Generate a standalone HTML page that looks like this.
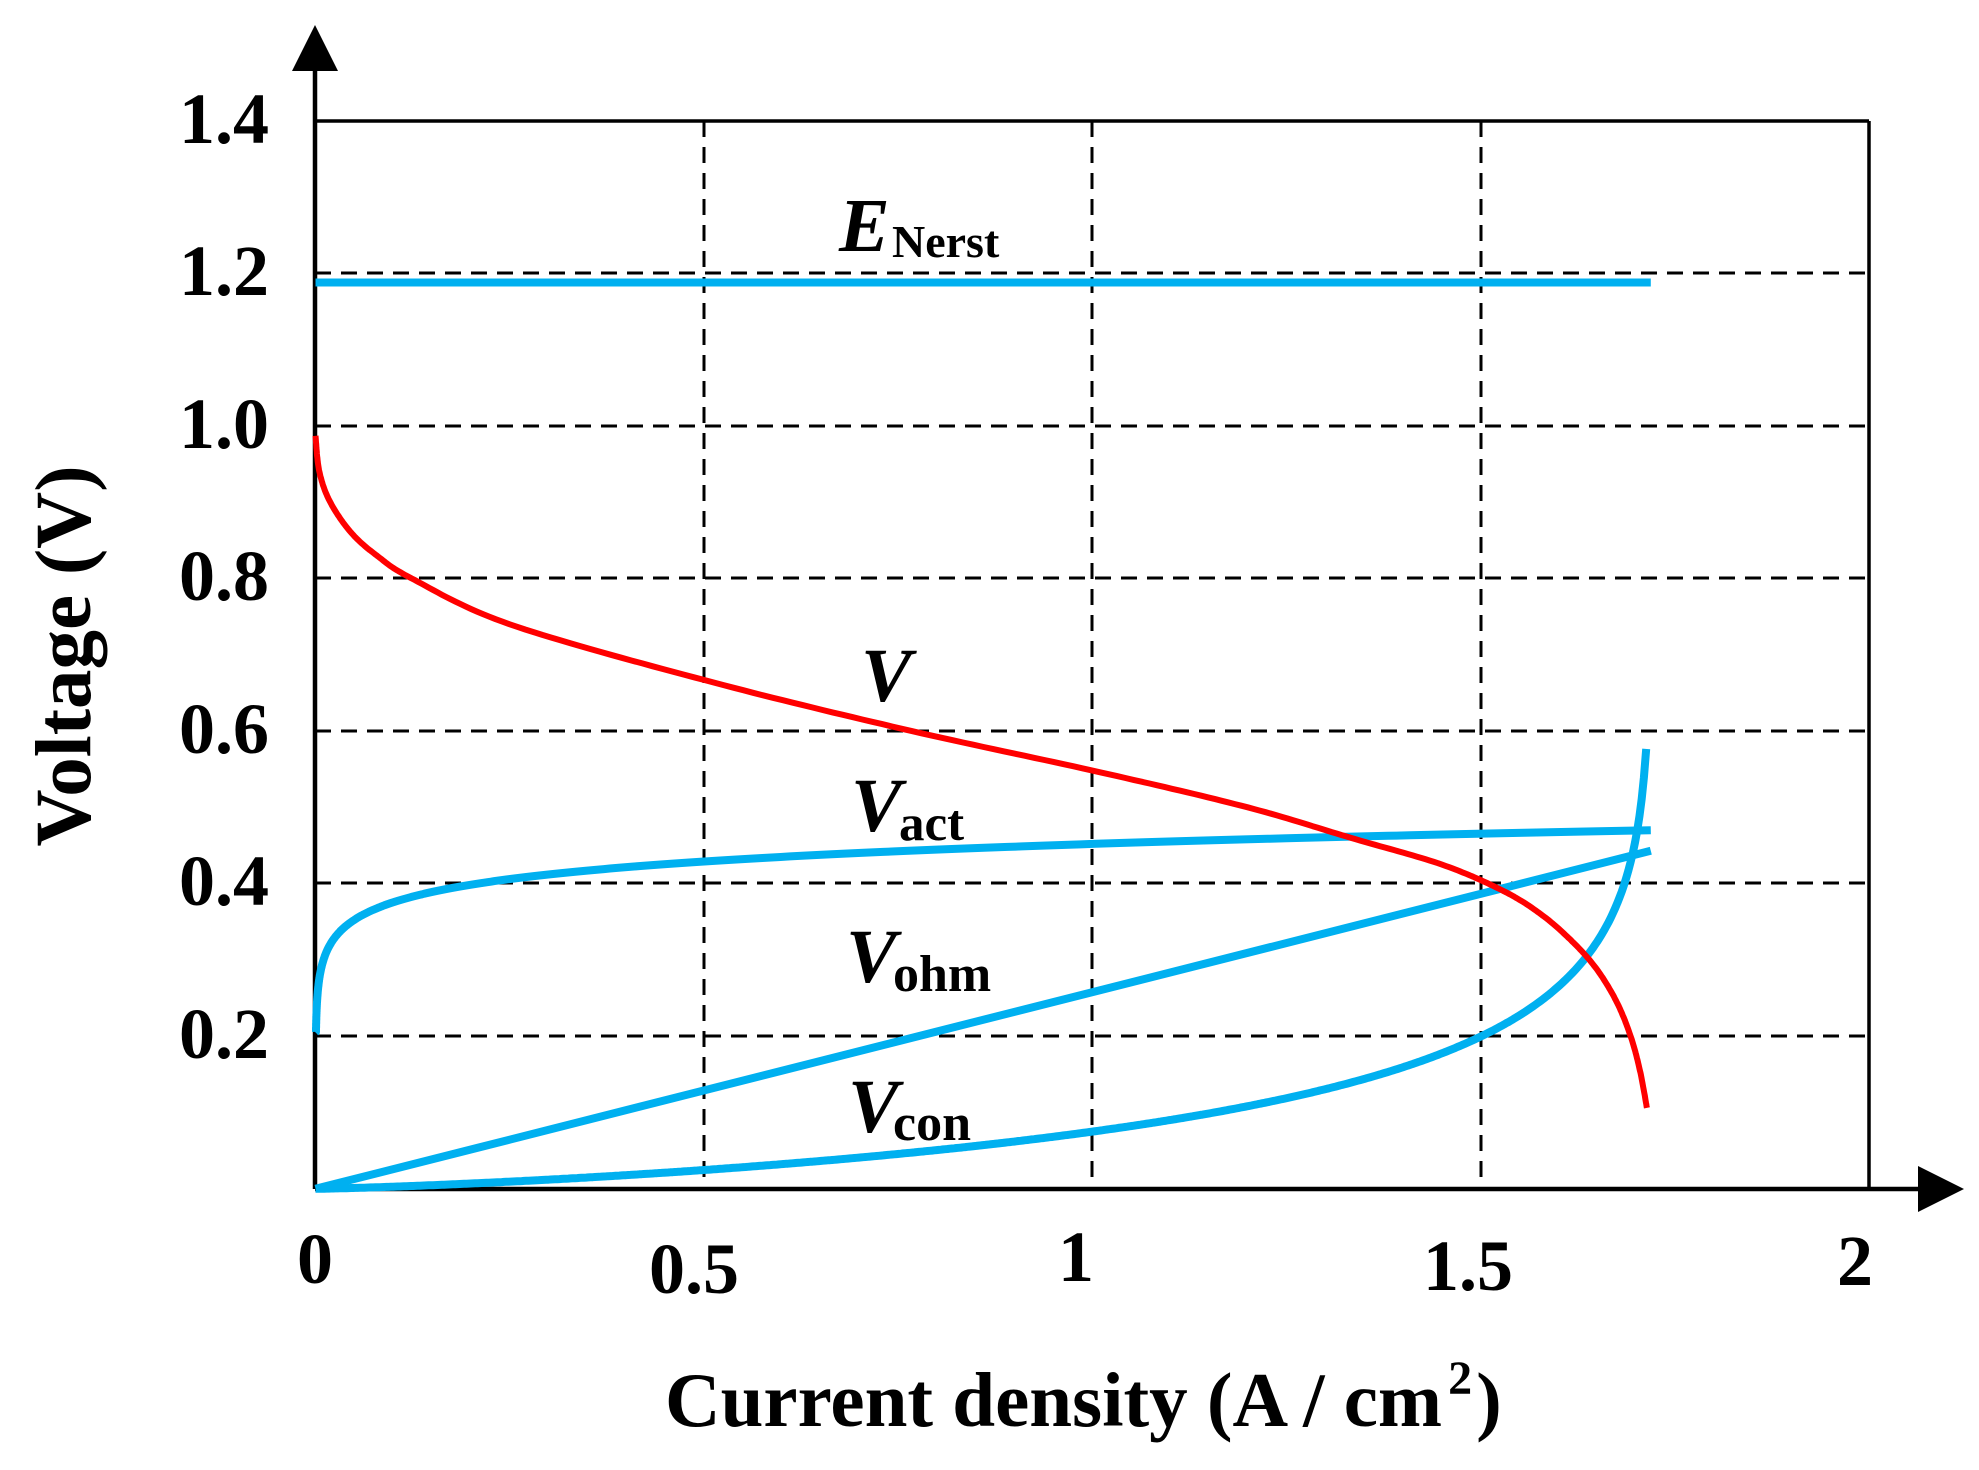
<!DOCTYPE html>
<html><head><meta charset="utf-8"><style>
html,body{margin:0;padding:0;background:#fff;}
svg{display:block;}
text{font-family:"Liberation Serif",serif;font-weight:bold;fill:#000;}
</style></head><body>
<svg id="s" width="1979" height="1470" viewBox="0 0 1979 1470" xmlns="http://www.w3.org/2000/svg">
<g stroke="#000" stroke-width="3" stroke-dasharray="16,10" fill="none">
<line x1="315" y1="273" x2="1869" y2="273"/>
<line x1="315" y1="426" x2="1869" y2="426"/>
<line x1="315" y1="578" x2="1869" y2="578"/>
<line x1="315" y1="731" x2="1869" y2="731"/>
<line x1="315" y1="883" x2="1869" y2="883"/>
<line x1="315" y1="1036" x2="1869" y2="1036"/>
<line x1="704" y1="121" x2="704" y2="1189"/>
<line x1="1092" y1="121" x2="1092" y2="1189"/>
<line x1="1481" y1="121" x2="1481" y2="1189"/>
</g>
<g stroke="#000" fill="none">
<line x1="315" y1="121" x2="1869" y2="121" stroke-width="3.5"/>
<line x1="1869" y1="121" x2="1869" y2="1189" stroke-width="3.5"/>
<line x1="315" y1="1189" x2="1925" y2="1189" stroke-width="4.5"/>
<line x1="315" y1="1189" x2="315" y2="60" stroke-width="4.5"/>
</g>
<polygon points="315,25 292,71 338,71" fill="#000"/>
<polygon points="1964,1189 1918,1166 1918,1212" fill="#000"/>
<g id="curves" fill="none" stroke-linecap="butt" stroke-linejoin="round"></g>
<g font-size="72" text-anchor="end">
<text x="269" y="143">1.4</text>
<text x="269" y="295">1.2</text>
<text x="269" y="448">1.0</text>
<text x="269" y="600">0.8</text>
<text x="269" y="753">0.6</text>
<text x="269" y="905">0.4</text>
<text x="269" y="1058">0.2</text>
</g>
<g font-size="72" text-anchor="middle">
<text x="315" y="1283">0</text>
<text x="694" y="1293">0.5</text>
<text x="1076" y="1281">1</text>
<text x="1468" y="1290">1.5</text>
<text x="1855" y="1285">2</text>
</g>
<text x="665" y="1426" font-size="77">Current density (A / cm<tspan font-size="48" dx="6" dy="-32">2</tspan><tspan dx="4" dy="32">)</tspan></text>
<text transform="translate(90,656) rotate(-90)" text-anchor="middle" font-size="79">Voltage (V)</text>
<text x="839" y="251" font-size="76" font-style="italic">E</text>
<text x="892" y="257" font-size="46">Nerst</text>
<text x="861" y="701" font-size="76" font-style="italic">V</text>
<text x="851" y="831" font-size="76" font-style="italic">V</text>
<text x="899" y="840" font-size="51">act</text>
<text x="846" y="982" font-size="76" font-style="italic">V</text>
<text x="893" y="991" font-size="52">ohm</text>
<text x="848" y="1132" font-size="76" font-style="italic">V</text>
<text x="893" y="1140" font-size="52">con</text>
</svg>
<script>
(function(){
var X=function(i){return 315.5+776.8*i;}, Y=function(v){return 1188.8-762.9*v;};
var g=document.getElementById('curves');
function path(pts,color,w){
  var d='M'+pts.map(function(p){return X(p[0]).toFixed(1)+','+Y(p[1]).toFixed(1);}).join(' L');
  var p=document.createElementNS('http://www.w3.org/2000/svg','path');
  p.setAttribute('d',d);p.setAttribute('stroke',color);p.setAttribute('stroke-width',w);
  g.appendChild(p);
}
function catmull(pts,n){
  var out=[];
  for(var k=0;k<pts.length-1;k++){
    var p0=pts[Math.max(k-1,0)],p1=pts[k],p2=pts[k+1],p3=pts[Math.min(k+2,pts.length-1)];
    for(var t=0;t<n;t++){
      var s=t/n,s2=s*s,s3=s2*s;
      var f=function(a,b,c,d){return 0.5*((2*b)+(-a+c)*s+(2*a-5*b+4*c-d)*s2+(-a+3*b-3*c+d)*s3);};
      out.push([f(p0[0],p1[0],p2[0],p3[0]),f(p0[1],p1[1],p2[1],p3[1])]);
    }
  }
  out.push(pts[pts.length-1]);return out;
}
var B='#00B0F0';
path([[0,1.188],[1.719,1.188]],B,8);
var a=[];for(var k=0;k<=400;k++){var i=0.0006*Math.pow(1.719/0.0006,k/400);a.push([i,0.429+0.0332*Math.log(i/0.5)]);}
a.unshift([0,0.205]);path(a,B,8);
path([[0,0],[1.719,0.443]],B,8);
var c=[];for(var k=0;k<=600;k++){var i=1.713*k/600;c.push([i,-0.11*Math.log(1-Math.pow(i/1.72,1.3))]);}
path(c,B,8);
var v=[[0,0.987],[0.005,0.94],[0.019,0.90],[0.046,0.86],[0.079,0.83],[0.124,0.80],[0.25,0.74],[0.5,0.667],[0.755,0.603],[1.01,0.546],[1.2,0.50],[1.333,0.46],[1.45,0.425],[1.53,0.39],[1.58,0.358],[1.62,0.322],[1.65,0.287],[1.675,0.245],[1.693,0.2],[1.705,0.155],[1.714,0.106]];
path(catmull(v,20),'#FF0000',6);
})();
</script>
</body></html>
